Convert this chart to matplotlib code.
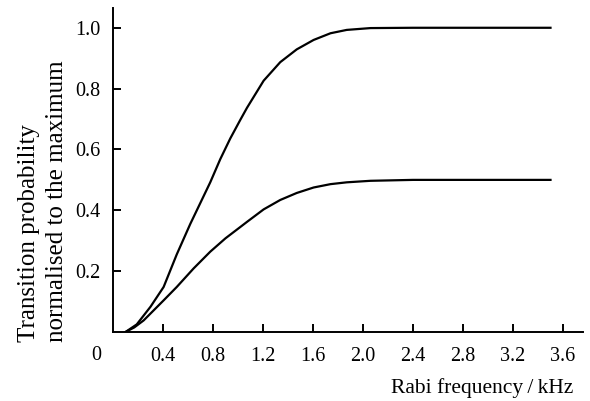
import matplotlib.pyplot as plt

plt.rcParams['font.family'] = ['Liberation Serif', 'DejaVu Serif']

# values
rabi_upper = [0.10, 0.19, 0.30, 0.405, 0.51, 0.618, 0.778, 0.858, 0.938, 1.018, 1.072,
              1.205, 1.338, 1.47, 1.605, 1.74, 1.87, 2.06, 2.40, 3.00, 3.50]
prob_upper = [0.0, 0.025, 0.083, 0.148, 0.255, 0.355, 0.492, 0.568, 0.636, 0.697, 0.737,
              0.826, 0.887, 0.929, 0.96, 0.982, 0.993, 0.999, 1.0, 1.0, 1.0]

rabi_lower = [0.10, 0.17, 0.245, 0.405, 0.51, 0.645, 0.778, 0.90, 1.018, 1.072, 1.205,
              1.338, 1.47, 1.605, 1.74, 1.87, 2.06, 2.40, 3.00, 3.50]
prob_lower = [0.0, 0.015, 0.038, 0.104, 0.148, 0.209, 0.264, 0.308, 0.345, 0.362, 0.403,
              0.434, 0.457, 0.475, 0.486, 0.492, 0.497, 0.5, 0.5, 0.5]

xticks = [0.4, 0.8, 1.2, 1.6, 2.0, 2.4, 2.8, 3.2, 3.6]
yticks = [0.2, 0.4, 0.6, 0.8, 1.0]

fig = plt.figure(figsize=(5.9, 4.01), dpi=100)
ax = fig.add_axes([113 / 590, 1 - 332 / 401, 470 / 590, 324 / 401])

ax.plot(rabi_upper, prob_upper, color='black', lw=1.6)
ax.plot(rabi_lower, prob_lower, color='black', lw=1.6)

ax.set_xlim(0, 3.76)
ax.set_ylim(0, 1.065)
ax.set_xticks(xticks)
ax.set_xticklabels([f'{t:.1f}' for t in xticks])
ax.set_yticks(yticks)
ax.set_yticklabels([f'{t:.1f}' for t in yticks])

for side in ['top', 'right']:
    ax.spines[side].set_visible(False)
for side in ['left', 'bottom']:
    ax.spines[side].set_linewidth(1.4)
ax.tick_params(direction='in', length=5.5, width=1.4, labelsize=14.5, pad=9)
ax.tick_params(axis='x', pad=11)

fig.text(96 / 590, 1 - 355 / 401, '0', fontsize=14.5, ha='center', va='center')
fig.text(573 / 590, 1 - 388 / 401, 'Rabi frequency\u2009/\u2009kHz', fontsize=15.5,
         ha='right', va='center')
fig.text(43 / 590, 1 - 342 / 401, 'Transition probability\nnormalised to the maximum',
         fontsize=18, rotation=90, ha='center', va='bottom', multialignment='left',
         linespacing=1.4)

fig.savefig('out.png', dpi=100)
